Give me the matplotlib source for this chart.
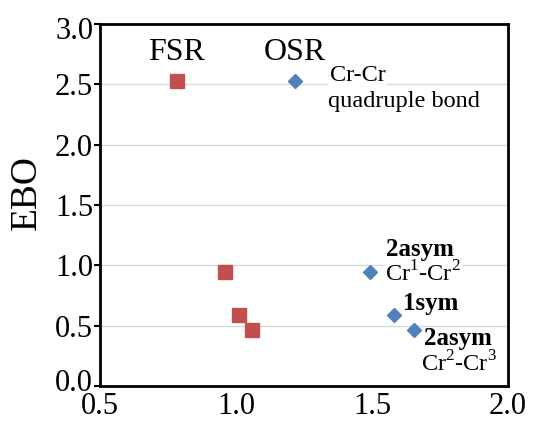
import matplotlib.pyplot as plt
from matplotlib.transforms import ScaledTranslation

plt.rcParams['font.family'] = ['Liberation Serif', 'DejaVu Serif']
plt.rcParams['mathtext.fontset'] = 'custom'
plt.rcParams['mathtext.rm'] = 'Liberation Serif'

# valores
fsr_x = [0.783, 0.96, 1.012, 1.06]
fsr_ebo = [2.53, 0.945, 0.59, 0.46]
osr_x = [1.217, 1.493, 1.582, 1.654]
osr_ebo = [2.53, 0.945, 0.59, 0.465]
xticks = [0.5, 1.0, 1.5, 2.0]
yticks = [0.0, 0.5, 1.0, 1.5, 2.0, 2.5, 3.0]

fig = plt.figure(figsize=(5.49, 4.22), dpi=100)
ax = fig.add_axes([100/549, 1 - 386/422, 408/549, 362/422])

ax.plot(fsr_x, fsr_ebo, 's', color='#C0504D', markersize=10, markeredgecolor='#C0504D', zorder=3)
ax.plot(osr_x, osr_ebo, 'D', color='#4F81BD', markersize=7, markeredgecolor='#4F81BD', zorder=3)

ax.set_xlim(0.5, 2.0)
ax.set_ylim(0.0, 3.0)
ax.set_xticks(xticks)
ax.set_yticks(yticks)
ax.set_xticklabels([f'{v:.1f}' for v in xticks])
ax.set_yticklabels([f'{v:.1f}' for v in yticks])
for y in yticks[1:-1]:
    ax.axhline(y, color='#d9d9d9', linewidth=1, zorder=1)

for s in ax.spines.values():
    s.set_linewidth(2)
ax.tick_params(axis='y', direction='out', length=4, width=1.5, labelsize=22, pad=1)
ax.tick_params(axis='x', length=0, labelsize=22, pad=4)

# rótulos das pontas levemente deslocados, como no original
rot = ax.get_yticklabels()
rot[0].set_transform(rot[0].get_transform() + ScaledTranslation(0, 6/100, fig.dpi_scale_trans))
rot[-1].set_transform(rot[-1].get_transform() + ScaledTranslation(0, -4/100, fig.dpi_scale_trans))

ax.set_ylabel('EBO', fontsize=27)
ax.yaxis.label.set_va('center')
ax.yaxis.set_label_coords(-0.18, 0.533)

ax.text(0.783, 2.76, 'FSR', fontsize=23, ha='center', va='center')
ax.text(1.217, 2.76, 'OSR', fontsize=23, ha='center', va='center')

caixa = dict(facecolor='white', edgecolor='none', pad=1)
ax.text(1.345, 2.57, 'Cr-Cr', fontsize=17.5, ha='left', va='center', bbox=caixa, zorder=2)
ax.text(1.338, 2.36, 'quadruple bond', fontsize=17.5, ha='left', va='center')
ax.text(1.553, 1.13, '2asym', fontsize=18, fontweight='bold', ha='left', va='center')
ax.text(1.548, 0.93, 'Cr$^1$-Cr$^2$', fontsize=17.5, ha='left', va='center', bbox=caixa, zorder=2)
ax.text(1.615, 0.68, '1sym', fontsize=18, fontweight='bold', ha='left', va='center')
ax.text(1.69, 0.39, '2asym', fontsize=18, fontweight='bold', ha='left', va='center')
ax.text(1.68, 0.18, 'Cr$^2$-Cr$^3$', fontsize=17.5, ha='left', va='center')

fig.savefig('out.png', dpi=100)
